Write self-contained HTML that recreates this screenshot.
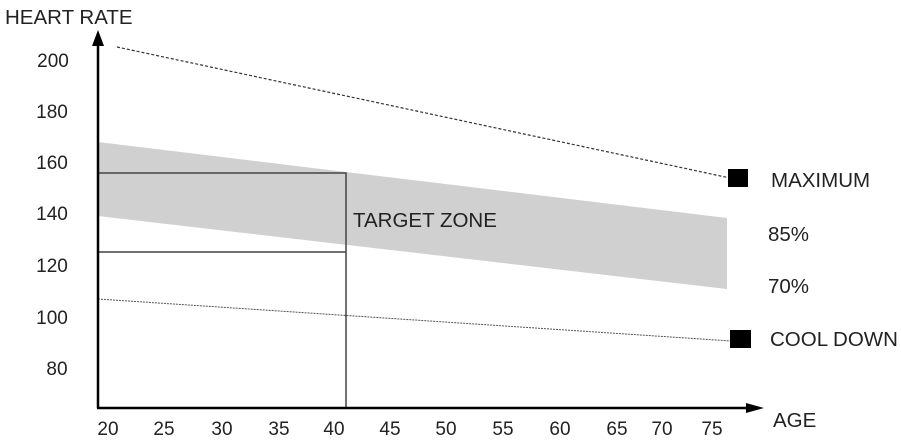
<!DOCTYPE html><html><head><style>body{margin:0;background:#fff}svg text{font-family:"Liberation Sans",sans-serif;fill:#222}</style></head><body>
<svg width="901" height="438" xmlns="http://www.w3.org/2000/svg">
<polygon points="98,142 727,218 727,289 98,216" fill="#d0d0d0"/>
<line x1="117" y1="47" x2="730" y2="178" stroke="#333" stroke-width="1.2" stroke-dasharray="3,2"/>
<line x1="98" y1="299" x2="731" y2="341" stroke="#555" stroke-width="1" stroke-dasharray="2,1"/>
<rect x="728" y="169" width="20" height="18" fill="#000"/>
<rect x="730" y="330" width="21" height="18" fill="#000"/>
<polyline points="98,173 346,173 346,408" fill="none" stroke="#444" stroke-width="1.5"/>
<line x1="98" y1="252" x2="346" y2="252" stroke="#444" stroke-width="1.5"/>
<line x1="98" y1="408" x2="98" y2="42" stroke="#000" stroke-width="2.5"/>
<polygon points="98,30 92,46 104,46" fill="#000"/>
<line x1="97" y1="408" x2="750" y2="408" stroke="#000" stroke-width="2.5"/>
<polygon points="764,408 746,403 746,413" fill="#000"/>
<g font-size="19">
<g text-anchor="middle">
<text x="53" y="67">200</text><text x="52" y="118">180</text><text x="52" y="169">160</text><text x="52" y="220">140</text><text x="52" y="272">120</text><text x="52" y="324">100</text><text x="57" y="375">80</text>
<text x="108" y="435">20</text><text x="164" y="435">25</text><text x="222" y="435">30</text><text x="279" y="435">35</text><text x="334" y="435">40</text><text x="390" y="435">45</text><text x="446" y="435">50</text><text x="503" y="435">55</text><text x="560" y="435">60</text><text x="617" y="435">65</text><text x="662" y="435">70</text><text x="712" y="435">75</text>
</g>
</g>
<g font-size="20.5">
<text x="5" y="24">HEART RATE</text>
<text x="353" y="227">TARGET ZONE</text>
<text x="771" y="187">MAXIMUM</text>
<text x="768" y="241">85%</text>
<text x="768" y="293">70%</text>
<text x="770" y="346">COOL DOWN</text>
<text x="773" y="427">AGE</text>
</g>
</svg></body></html>
